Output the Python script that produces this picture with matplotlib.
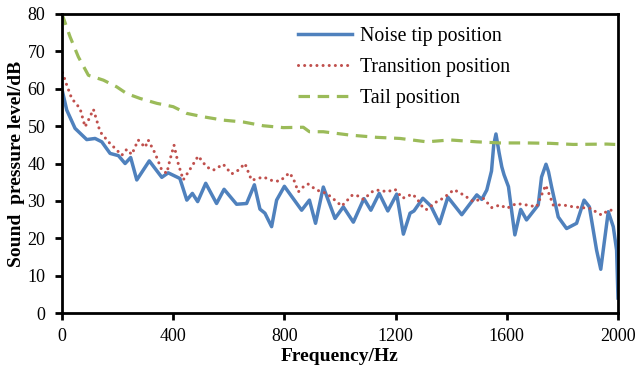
import matplotlib
matplotlib.use("Agg")
import matplotlib.pyplot as plt

# sound pressure spectra at three positions
tip_hz = [0, 17, 47, 89, 119, 143, 173, 203, 227, 247, 269, 314, 359, 382, 424, 449, 469, 488,
          517, 556, 583, 628, 664, 692, 712, 730, 754, 772, 800, 826, 862, 890, 912, 940, 982,
          1012, 1048, 1086, 1111, 1141, 1172, 1204, 1228, 1252, 1266, 1298, 1327, 1358, 1388,
          1438, 1492, 1510, 1528, 1545, 1553, 1561, 1572, 1582, 1590, 1606, 1618, 1629, 1650,
          1671, 1713, 1725, 1741, 1750, 1761, 1785, 1815, 1851, 1878, 1897, 1923, 1938, 1950,
          1965, 1983, 1995, 2000]
tip_db = [59.8, 54.3, 49.4, 46.4, 46.7, 45.8, 42.7, 42.1, 40.0, 41.6, 35.6, 40.7, 36.3, 37.5,
          36.0, 30.2, 32.0, 29.8, 34.7, 29.3, 33.1, 29.1, 29.3, 34.3, 27.8, 26.7, 23.1, 30.2,
          33.9, 31.2, 27.5, 30.2, 24.0, 33.7, 25.3, 28.4, 24.3, 30.6, 27.5, 32.0, 27.3, 31.8,
          21.1, 26.7, 27.3, 30.7, 28.6, 23.9, 31.0, 26.3, 31.6, 30.4, 32.9, 38.0, 45.0, 47.9,
          43.0, 39.1, 37.0, 33.8, 27.0, 20.9, 27.7, 24.9, 28.9, 36.4, 39.8, 37.8, 33.8, 25.7,
          22.6, 24.0, 30.2, 28.4, 16.8, 11.7, 18.6, 27.1, 23.1, 16.8, 4.0]

trans_hz = [2, 17, 35, 65, 83, 95, 113, 137, 167, 197, 215, 233, 251, 274, 299, 310, 335, 359,
            377, 388, 403, 418, 436, 466, 490, 520, 544, 580, 610, 634, 658, 682, 724, 760, 784,
            818, 832, 850, 874, 885, 916, 952, 988, 1006, 1045, 1066, 1084, 1120, 1144, 1168,
            1198, 1225, 1260, 1276, 1300, 1312, 1348, 1371, 1410, 1444, 1480, 1515, 1546, 1576,
            1600, 1635, 1671, 1707, 1740, 1767, 1803, 1839, 1899, 1941, 1965, 1989]
trans_db = [64.3, 61.0, 57.4, 54.7, 49.8, 51.6, 54.5, 48.5, 45.8, 43.6, 42.2, 43.8, 42.4, 46.3,
            44.3, 46.3, 42.7, 38.2, 37.4, 40.9, 44.9, 40.0, 35.6, 39.1, 42.0, 39.1, 38.2, 39.8,
            37.2, 38.2, 40.0, 35.5, 36.4, 35.3, 35.3, 37.5, 36.0, 32.4, 34.2, 34.5, 32.9, 32.0,
            29.8, 28.6, 31.6, 31.3, 30.4, 32.7, 32.9, 32.4, 33.1, 30.7, 31.8, 30.7, 28.0, 27.7,
            29.8, 30.7, 33.0, 31.6, 29.8, 30.7, 28.2, 28.9, 28.0, 29.3, 28.9, 28.4, 34.2, 28.9,
            28.9, 28.4, 28.0, 26.2, 27.5, 27.5]

tail_hz = [0, 29, 59, 95, 149, 197, 233, 281, 341, 400, 449, 508, 580, 652, 724, 796, 868, 890,
           940, 1036, 1132, 1216, 1312, 1396, 1492, 1576, 1671, 1755, 1839, 1959, 1990]
tail_db = [80.0, 73.9, 68.5, 63.6, 62.3, 60.5, 58.7, 57.4, 56.1, 55.2, 53.4, 52.5, 51.6, 51.1,
           50.1, 49.6, 49.7, 48.5, 48.5, 47.6, 47.0, 46.7, 45.8, 46.3, 45.8, 45.5, 45.5, 45.4,
           45.1, 45.2, 45.1]

x_ticks = [0, 400, 800, 1200, 1600, 2000]
y_ticks = [0, 10, 20, 30, 40, 50, 60, 70, 80]

plt.rcParams['font.family'] = ['Liberation Serif', 'DejaVu Serif']

fig = plt.figure(figsize=(6.4, 3.71), dpi=100)
ax = fig.add_axes([62/640, 58/371, 556/640, 299/371])

ax.plot(tip_hz, tip_db, color='#4F81BD', lw=2.5, solid_joinstyle='round',
        label='Noise tip position')
ax.plot(trans_hz, trans_db, color='#C0504D', lw=2.2, linestyle=(0, (0.01, 2.0)),
        dash_capstyle='round', label='Transition position')
ax.plot(tail_hz, tail_db, color='#9BBB59', lw=2.3, linestyle=(0, (3.6, 2.4)),
        label='Tail position')

ax.set_xlim(0, 2000)
ax.set_ylim(0, 80)
ax.set_xticks(x_ticks)
ax.set_yticks(y_ticks)
ax.tick_params(direction='out', length=5, width=2, labelsize=13)
ax.tick_params(axis='x', pad=6)
ax.tick_params(axis='y', pad=7)

for sp in ax.spines.values():
    sp.set_linewidth(2)
    sp.set_color('black')

ax.set_xlabel('Frequency/Hz', fontsize=14, fontweight='bold', labelpad=2)
ax.set_ylabel('Sound  pressure level/dB', fontsize=14, fontweight='bold', labelpad=2)

ax.legend(loc='upper left', bbox_to_anchor=(298/640, 1 - 27/371), bbox_transform=fig.transFigure,
          frameon=False, fontsize=14.3, handlelength=2.7, handletextpad=0.4,
          labelspacing=0.6, borderpad=0, borderaxespad=0)

fig.savefig('out.png', dpi=100)
